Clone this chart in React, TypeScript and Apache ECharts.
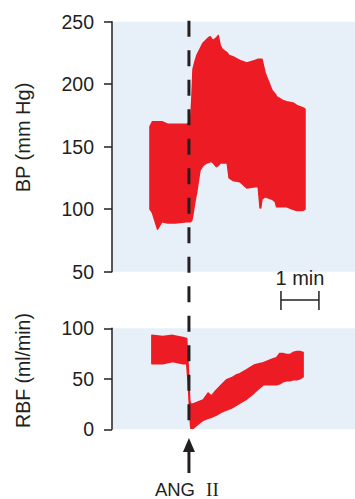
import React, { useEffect, useRef } from "react";
import * as echarts from "echarts";

// Time in seconds
const bpTime = [60, 64, 72, 79, 88, 100, 118, 122, 124, 126, 128, 131, 134, 139, 144, 150, 155, 158, 160, 165, 168, 171, 174, 182, 185, 191, 202, 213, 226, 231, 234, 235, 237, 242, 253, 258, 260, 270, 276, 286, 292, 302, 305];
const bpUpper = [166, 170, 170, 170, 168, 168, 168, 169, 170, 187, 212, 218, 223, 228, 233, 236, 238, 236, 235, 237, 239, 231, 228, 225, 223, 222, 219, 217, 219, 220, 220, 220, 220, 209, 195, 192, 190, 187, 186, 185, 183, 181, 180];
const bpLower = [100, 97, 84, 90, 89, 89, 90, 90, 90, 91, 96, 106, 114, 131, 135, 137, 138, 138, 137, 134, 135, 137, 137, 137, 125, 123, 122, 117, 118, 118, 101, 101, 108, 110, 108, 106, 102, 102, 102, 100, 99, 99, 100];

const rbfTime = [63, 80, 96, 112, 118, 120.5, 123, 124.5, 128, 136, 144, 152, 157, 165, 173, 181, 189, 197, 202, 213, 223, 226, 239, 247, 255, 260, 265, 270, 276, 281, 286, 292, 297, 302];
const rbfUpper = [93, 92, 93, 91, 90, 62, 28, 25, 25, 27, 29, 36, 33, 39, 44, 49, 51, 54, 55, 59, 63, 64, 66, 68, 70, 71, 75, 75, 74, 74, 76, 77, 77, 76];
const rbfLower = [65, 65, 67, 65, 65, 45, 14, 1, 1, 5, 9, 11, 12, 14, 17, 19, 21, 24, 26, 30, 35, 37, 44, 44, 44, 44, 45, 47, 48, 48, 49, 49, 50, 52];

const bpRange = [50, 250];
const rbfRange = [0, 100];
const timeRange = [0, 384];
const angTime = 121.6;
const scaleBarStart = 267;
const scaleBarLength = 60;

const RED = "#ED1C24";
const BG = "#E7EFF8";
const INK = "#231F20";
const FONT = "Liberation Sans, Arial, Helvetica, sans-serif";
const SERIF = "Liberation Serif, Times New Roman, serif";

function band(idx: number, times: number[], upper: number[], lower: number[]) {
  return {
    type: "custom",
    xAxisIndex: idx,
    yAxisIndex: idx,
    coordinateSystem: "cartesian2d",
    data: [[times[0], upper[0]]],
    silent: true,
    renderItem: (_params: any, api: any) => {
      const pts: number[][] = [];
      for (let i = 0; i < times.length; i++) pts.push(api.coord([times[i], upper[i]]));
      for (let i = times.length - 1; i >= 0; i--) pts.push(api.coord([times[i], lower[i]]));
      return {
        type: "polygon",
        shape: { points: pts },
        style: { fill: RED, stroke: RED, lineWidth: 1.5, lineJoin: "round" },
      };
    },
  };
}

function yAxis(idx: number, range: number[]) {
  return {
    type: "value",
    gridIndex: idx,
    min: range[0],
    max: range[1],
    interval: 50,
    axisLine: { show: true, lineStyle: { color: INK, width: 1.5 } },
    axisTick: { show: true, length: 8, lineStyle: { color: INK, width: 1.5 } },
    splitLine: { show: false },
    axisLabel: { fontSize: 19.5, color: INK, fontFamily: FONT, margin: 18 },
  };
}

function xAxis(idx: number) {
  return {
    type: "value",
    gridIndex: idx,
    min: timeRange[0],
    max: timeRange[1],
    show: false,
    splitLine: { show: false },
  };
}

export default function App() {
  const ref = useRef<HTMLDivElement>(null);
  useEffect(() => {
    if (!ref.current) return;
    const chart = echarts.init(ref.current, undefined, { renderer: "svg" });
    chart.setOption({
      animation: false,
      grid: [
        { left: 112, right: 0, top: 21.7, height: 250, show: true, backgroundColor: BG, borderWidth: 0 },
        { left: 112, right: 0, top: 328.3, height: 101, show: true, backgroundColor: BG, borderWidth: 0 },
      ],
      xAxis: [xAxis(0), xAxis(1)],
      yAxis: [yAxis(0, bpRange), yAxis(1, rbfRange)],
      series: [band(0, bpTime, bpUpper, bpLower), band(1, rbfTime, rbfUpper, rbfLower)],
    });

    const ax = chart.convertToPixel({ xAxisIndex: 0 }, angTime) as number;
    const yTop = (chart.convertToPixel({ yAxisIndex: 0 }, bpRange[1]) as number) - 1;
    const yBot = (chart.convertToPixel({ yAxisIndex: 1 }, rbfRange[0]) as number) - 4;
    const sb1 = chart.convertToPixel({ xAxisIndex: 0 }, scaleBarStart) as number;
    const sb2 = chart.convertToPixel({ xAxisIndex: 0 }, scaleBarStart + scaleBarLength) as number;
    const sbY = 300;

    chart.setOption({
      graphic: [
        {
          type: "line",
          shape: { x1: ax, y1: yTop, x2: ax, y2: yBot },
          style: { stroke: INK, lineWidth: 3, lineDash: [16, 13.5] },
          z: 100,
        },
        {
          type: "line",
          shape: { x1: ax, y1: 473, x2: ax, y2: 450 },
          style: { stroke: INK, lineWidth: 3 },
        },
        {
          type: "polygon",
          shape: { points: [[ax - 6, 452], [ax + 6, 452], [ax, 438]] },
          style: { fill: INK },
        },
        {
          type: "text",
          x: ax - 14,
          y: 489.3,
          style: { text: "ANG", fontSize: 18.5, fontFamily: FONT, fill: INK, align: "center", verticalAlign: "middle" },
        },
        {
          type: "text",
          x: ax + 23.5,
          y: 489.3,
          style: { text: "II", fontSize: 19, fontFamily: SERIF, fill: INK, align: "center", verticalAlign: "middle" },
        },
        {
          type: "text",
          x: 23,
          y: 137.5,
          rotation: Math.PI / 2,
          style: { text: "BP (mm Hg)", fontSize: 20, fontFamily: FONT, fill: INK, align: "center", verticalAlign: "middle" },
        },
        {
          type: "text",
          x: 23,
          y: 370.5,
          rotation: Math.PI / 2,
          style: { text: "RBF (ml/min)", fontSize: 19.5, fontFamily: FONT, fill: INK, align: "center", verticalAlign: "middle" },
        },
        {
          type: "line",
          shape: { x1: sb1, y1: sbY, x2: sb2, y2: sbY },
          style: { stroke: INK, lineWidth: 1.5 },
        },
        {
          type: "line",
          shape: { x1: sb1, y1: sbY - 9, x2: sb1, y2: sbY + 10 },
          style: { stroke: INK, lineWidth: 1.5 },
        },
        {
          type: "line",
          shape: { x1: sb2, y1: sbY - 9, x2: sb2, y2: sbY + 10 },
          style: { stroke: INK, lineWidth: 1.5 },
        },
        {
          type: "text",
          x: (sb1 + sb2) / 2,
          y: 277.5,
          style: { text: "1 min", fontSize: 20, fontFamily: FONT, fill: INK, align: "center", verticalAlign: "middle" },
        },
      ],
    });
    return () => chart.dispose();
  }, []);
  return (
    <div
      ref={ref}
      style={{ position: "absolute", left: 0, top: 0, width: 355, height: 499, background: "#fff" }}
    />
  );
}
